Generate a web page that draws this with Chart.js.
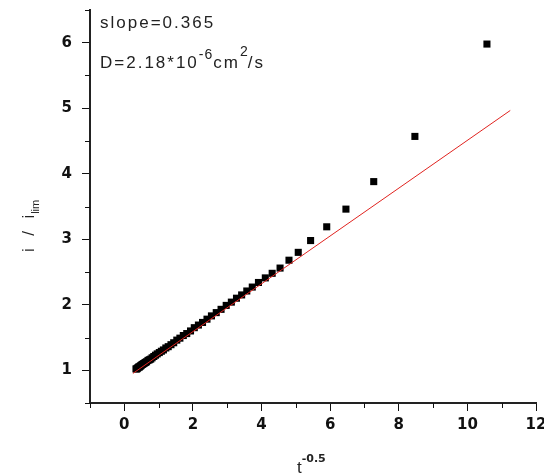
<!DOCTYPE html>
<html>
<head>
<meta charset="utf-8">
<script src="https://cdn.jsdelivr.net/npm/chart.js@4.4.1/dist/chart.umd.min.js"></script>
<style>
  html, body { margin: 0; padding: 0; background: #fff; }
  canvas { display: block; }
</style>
</head>
<body>
<canvas id="diffChart" width="544" height="474"></canvas>
<script>
// measured points: t^-0.5 vs normalised current i / i_lim
const tInvSqrt = [
  0.34, 0.36, 0.38, 0.40, 0.42, 0.44, 0.46, 0.48, 0.50, 0.53,
  0.56, 0.59, 0.62, 0.65, 0.69, 0.73, 0.77, 0.81, 0.86, 0.91,
  0.96, 1.02, 1.08, 1.14, 1.21, 1.28, 1.36, 1.44, 1.53, 1.62,
  1.72, 1.82, 1.93, 2.04, 2.16, 2.28, 2.41, 2.54, 2.68, 2.82,
  2.97, 3.12, 3.27, 3.42, 3.57, 3.73, 3.91, 4.11, 4.31, 4.54,
  4.80, 5.07, 5.43, 5.90, 6.46, 7.27, 8.47, 10.57
];
const currentRatio = [
  1.02, 1.02, 1.03, 1.04, 1.05, 1.05, 1.06, 1.07, 1.08, 1.09,
  1.10, 1.11, 1.12, 1.13, 1.15, 1.16, 1.17, 1.19, 1.21, 1.23,
  1.25, 1.27, 1.29, 1.31, 1.34, 1.36, 1.39, 1.42, 1.46, 1.49,
  1.53, 1.56, 1.60, 1.65, 1.69, 1.73, 1.78, 1.83, 1.88, 1.93,
  1.99, 2.04, 2.10, 2.15, 2.21, 2.27, 2.34, 2.41, 2.48, 2.56,
  2.68, 2.80, 2.98, 3.19, 3.46, 3.88, 4.57, 5.98
];

// linear fit
const fitSlope = 0.365;
const fitIntercept = 0.86;
const fitRange = [0.25, 11.25];

const xTicks = [0, 2, 4, 6, 8, 10, 12];
const xMinorTicks = [-1, 1, 3, 5, 7, 9, 11];
const yTicks = [1, 2, 3, 4, 5, 6];
const yMinorTicks = [0.5, 1.5, 2.5, 3.5, 4.5, 5.5, 6.5];

const points = tInvSqrt.map((x, i) => ({ x: x, y: currentRatio[i] }));
const fitLine = fitRange.map(x => ({ x: x, y: fitIntercept + fitSlope * x }));

const tickFont = { family: 'DejaVu Sans', size: 15, weight: 'bold' };
const ink = '#111';

// draws a row of text pieces (normal / super / subscript) one after another
function drawRuns(ctx, x, y, runs) {
  runs.forEach(r => {
    ctx.font = r.font;
    ctx.letterSpacing = r.spacing || '0px';
    ctx.fillText(r.text, x, y + (r.dy || 0));
    x += ctx.measureText(r.text).width;
  });
}

const extrasPlugin = {
  id: 'extras',
  afterDraw(chart) {
    const ctx = chart.ctx;
    const { left, bottom } = chart.chartArea;
    const xs = chart.scales.x;
    const ys = chart.scales.y;
    ctx.save();

    // minor ticks
    ctx.strokeStyle = ink;
    ctx.lineWidth = 1;
    ctx.beginPath();
    xMinorTicks.forEach(v => {
      const p = Math.round(xs.getPixelForValue(v)) + 0.5;
      ctx.moveTo(p, bottom);
      ctx.lineTo(p, bottom + 5);
    });
    yMinorTicks.forEach(v => {
      const p = Math.round(ys.getPixelForValue(v)) + 0.5;
      ctx.moveTo(left - 5, p);
      ctx.lineTo(left, p);
    });
    ctx.stroke();

    ctx.fillStyle = '#222';
    ctx.textAlign = 'left';
    ctx.textBaseline = 'alphabetic';
    const txt = '17px "Liberation Sans"';
    const sup = '14px "Liberation Sans"';

    drawRuns(ctx, 100, 28, [{ text: 'slope=0.365', font: txt, spacing: '2px' }]);
    drawRuns(ctx, 100, 68, [
      { text: 'D=2.18*10', font: txt, spacing: '2px' },
      { text: '-6', font: sup, spacing: '1px', dy: -9 },
      { text: 'cm', font: txt, spacing: '2px' },
      { text: '2', font: sup, dy: -12 },
      { text: '/s', font: txt, spacing: '2px' }
    ]);

    // axis titles
    drawRuns(ctx, 297, 473, [
      { text: 't', font: '17px "Liberation Sans"' },
      { text: '-0.5', font: 'bold 11px "DejaVu Sans"', dy: -11 }
    ]);

    ctx.translate(34, 229);
    ctx.rotate(-Math.PI / 2);
    drawRuns(ctx, -23, 0, [
      { text: 'i  /  i', font: '17px "Liberation Sans"', spacing: '1px' },
      { text: 'lim', font: '11px "Liberation Sans"', dy: 5 }
    ]);
    ctx.restore();
  }
};

new Chart(document.getElementById('diffChart'), {
  type: 'scatter',
  data: {
    datasets: [
      {
        type: 'line',
        data: fitLine,
        borderColor: '#e0231f',
        borderWidth: 1,
        pointRadius: 0,
        fill: false,
        order: 0
      },
      {
        data: points,
        pointStyle: 'rect',
        pointRadius: 5,
        backgroundColor: '#000',
        borderWidth: 0,
        order: 1
      }
    ]
  },
  options: {
    responsive: false,
    animation: false,
    devicePixelRatio: 1,
    layout: { padding: { top: 10, right: 8, left: 0, bottom: 0 } },
    plugins: { legend: { display: false }, tooltip: { enabled: false } },
    scales: {
      x: {
        type: 'linear',
        min: -1,
        max: 12,
        afterBuildTicks: s => { s.ticks = xTicks.map(v => ({ value: v })); },
        afterFit: s => { s.height = 71; s.paddingLeft = 0; s.paddingRight = 0; },
        grid: { drawOnChartArea: false, tickLength: 8, color: ink, lineWidth: 1 },
        border: { display: true, color: '#222', width: 2 },
        ticks: { font: tickFont, color: ink, padding: 5, maxRotation: 0, autoSkip: false }
      },
      y: {
        type: 'linear',
        min: 0.5,
        max: 6.5,
        afterBuildTicks: s => { s.ticks = yTicks.map(v => ({ value: v })); },
        afterFit: s => { s.width = 90; s.paddingTop = 0; s.paddingBottom = 0; },
        grid: { drawOnChartArea: false, tickLength: 8, color: ink, lineWidth: 1 },
        border: { display: true, color: '#222', width: 2 },
        ticks: { font: tickFont, color: ink, padding: 10, autoSkip: false }
      }
    }
  },
  plugins: [extrasPlugin]
});
</script>
</body>
</html>
